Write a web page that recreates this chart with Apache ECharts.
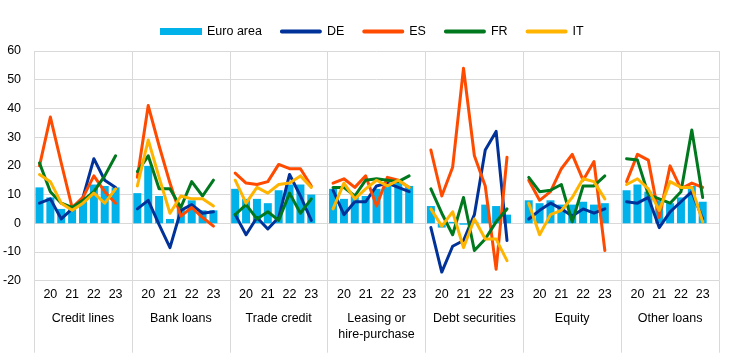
<!DOCTYPE html>
<html>
<head>
<meta charset="utf-8">
<script src="https://cdn.jsdelivr.net/npm/echarts@6/dist/echarts.min.js"></script>
<style>
html,body{margin:0;padding:0;background:#fff;}
#chart{width:738px;height:359px;}
</style>
</head>
<body>
<div id="chart"></div>
<script>
// ---- Data ----
const groups = ['Credit lines', 'Bank loans', 'Trade credit', 'Leasing or\nhire-purchase', 'Debt securities', 'Equity', 'Other loans'];
const periodLabels = ['', '20', '', '21', '', '22', '', '23'];
const yTicks = { min: -20, max: 60, interval: 10 };

const euroArea = [
  [12.5, 9, 5, 5, 8, 13.5, 13, 12.5],
  [10.5, 20, 9.5, 1.5, 5, 8, 4.5, 4.5],
  [12, 8.5, 8.5, 7, 11.5, 13.5, 13.5, 10],
  [12, 8.5, 9.5, 9.5, 12, 13, 14, 13],
  [6, -1.5, 0.5, -0.5, 0.5, 6.5, 6, 3],
  [8, 7, 8, 6.5, 6.5, 7.5, 6.5, 7],
  [11.5, 13.5, 11, 8, 7, 9, 13, 7.5]
];
const de = [
  [7, 8.5, 1.5, 5, 9, 22.5, 15, 12.5],
  [5, 8, -0.5, -8.5, 4.5, 6.5, 3.5, 4],
  [3, -4, 2, -2, 2, 17, 9.5, 1],
  [11.5, 3, 7.5, 7.5, 13, 14, 12.5, 11],
  [-1.5, -17, -8, -6, 3, 25.5, 32, -6],
  [1.5, 4.5, 7, 5, 2.5, 5, 3.5, 5],
  [7.5, 7, 9, -1.5, 4, 7.5, 11, 1.5]
];
const es = [
  [20, 37, 21, 5.5, 9, 16.5, 11, 7],
  [16, 41, 27, 14, 2.5, 5.5, 2, -1],
  [17.5, 14, 13.5, 14.5, 20.5, 19, 19, 13],
  [14, 15.5, 12.5, 16.5, 6, 16, 15, 12.5],
  [25.5, 9.5, 19.5, 54, 23.5, 13, -16, 23],
  [15, 8, 11, 19, 24, 15, 21.5, -9.5],
  [14.5, 24, 22, 2, 20, 12, 14, 12.5]
];
const fr = [
  [21, 11, 7, 5.5, 8, 11, 16.5, 23.5],
  [18, 23.5, 12, 12, 5.5, 14.5, 9.5, 15],
  [3, 6.5, 1.5, 4, 1, 10.5, 3.5, 8.5],
  [12.5, 12.5, 9.5, 15, 15.5, 15, 14.5, 16.5],
  [12, 3.5, -4, 9, -9.5, -5.5, 0.5, 5],
  [16, 11, 11.5, 13.5, 0.5, 13, 13, 16.5],
  [22.5, 22, 10, 8.5, 7, 11, 32.5, 9]
];
const it = [
  [17, 14.5, 7, 4.5, 7, 10.5, 7, 12],
  [13, 29, 16, 3.5, 9.5, 8.5, 8.5, 6],
  [15, 7, 12.5, 10.5, 13.5, 14, 16.5, 12.5],
  [5, 14, 8.5, 12, 15, 13, 15, 12.5],
  [5, -1, 4, -8.5, 1.5, -5.5, -5.5, -13],
  [7, -4, 3, 4.5, 9, 15.5, 14.5, 8.5],
  [13.5, 15.5, 12, 4.5, 14.5, 12.5, 12.5, 0.5]
];

// ---- Build category slots: 8 periods + 1 empty spacer per group ----
const SLOTS = periodLabels.length + 1;
const cats = [];
const catLabels = [];
groups.forEach(function (g, gi) {
  for (let i = 0; i < SLOTS; i++) {
    cats.push(gi + '_' + i);
    catLabels.push(i < periodLabels.length ? periodLabels[i] : '');
  }
});
function flat(arr) {
  const out = [];
  arr.forEach(function (g) { g.forEach(function (v) { out.push(v); }); out.push('-'); });
  return out;
}

const FONT = "'Liberation Sans', Arial, sans-serif";
const GRID_COL = '#d9d9d9';
const LINE_ICON = 'path://M2,0H42A2,2 0 0 1 42,4H2A2,2 0 0 1 2,0Z';

function lineSeries(name, data, color) {
  return {
    name: name, type: 'line', data: flat(data), xAxisIndex: 0,
    symbol: 'none', connectNulls: false,
    lineStyle: { color: color, width: 3, cap: 'round', join: 'round' },
    itemStyle: { color: color }
  };
}

const chart = echarts.init(document.getElementById('chart'), null, { renderer: 'canvas' });
chart.setOption({
  animation: false,
  backgroundColor: '#fff',
  textStyle: { fontFamily: FONT, color: '#000' },
  legend: {
    top: 20, left: 155,
    itemWidth: 42, itemHeight: 7, itemGap: 18,
    textStyle: { fontFamily: FONT, fontSize: 12.5, color: '#000' },
    data: [
      { name: 'Euro area', icon: 'rect' },
      { name: 'DE', icon: LINE_ICON },
      { name: 'ES', icon: LINE_ICON },
      { name: 'FR', icon: LINE_ICON },
      { name: 'IT', icon: LINE_ICON }
    ]
  },
  grid: { left: 34, right: 19, top: 51, bottom: 78.3, containLabel: false },
  xAxis: [
    {
      type: 'category', data: cats, boundaryGap: true, position: 'bottom',
      axisLine: { show: false, onZero: false },
      axisTick: { show: false },
      splitLine: { show: false },
      axisLabel: {
        interval: 0, margin: 7, fontFamily: FONT, fontSize: 12.5, color: '#000', lineHeight: 14,
        formatter: function (v, idx) { return catLabels[idx]; }
      }
    },
    {
      type: 'category', data: groups, boundaryGap: true, position: 'bottom',
      axisLine: { show: false, onZero: false },
      axisTick: { show: true, length: 72, lineStyle: { color: GRID_COL, width: 1 } },
      splitLine: { show: true, lineStyle: { color: GRID_COL, width: 1 } },
      axisLabel: { interval: 0, margin: 30, fontFamily: FONT, fontSize: 12.5, color: '#000', lineHeight: 16, align: 'center' }
    }
  ],
  yAxis: {
    type: 'value', min: yTicks.min, max: yTicks.max, interval: yTicks.interval,
    axisLine: { show: false }, axisTick: { show: false },
    splitLine: { lineStyle: { color: GRID_COL, width: 1 } },
    axisLabel: { margin: 13, fontFamily: FONT, fontSize: 12.5, color: '#000' }
  },
  series: [
    {
      name: 'Euro area', type: 'bar', data: flat(euroArea), xAxisIndex: 0,
      barWidth: 8, itemStyle: { color: '#00b1ea' }
    },
    lineSeries('DE', de, '#003299'),
    lineSeries('ES', es, '#ff4b00'),
    lineSeries('FR', fr, '#00781e'),
    lineSeries('IT', it, '#ffb400')
  ]
});
</script>
</body>
</html>
